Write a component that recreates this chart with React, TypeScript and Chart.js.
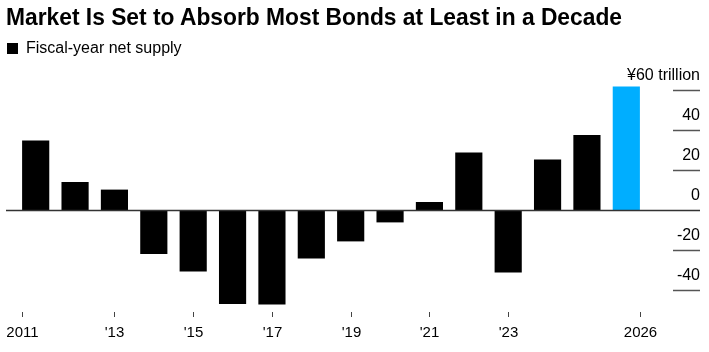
import React, { useEffect, useLayoutEffect, useRef } from "react";
import { Chart, registerables } from "chart.js";

Chart.register(...registerables);

const years = ["2011","2012","2013","2014","2015","2016","2017","2018","2019","2020","2021","2022","2023","2024","2025","2026"];
const supply = [34.7, 14, 10.2, -22, -30.8, -47, -47.2, -24.2, -15.7, -6.2, 4, 28.8, -31.3, 25.3, 37.5, 61.7];
const highlightYear = "2026";
const yTickValues = [60, 40, 20, 0, -20, -40];
const yTickText = ["¥60 trillion", "40", "20", "0", "-20", "-40"];
const xTickYears = ["2011","2013","2015","2017","2019","2021","2023","2026"];
const xTickText = ["2011","'13","'15","'17","'19","'21","'23","2026"];

const TITLE = "Market Is Set to Absorb Most Bonds at Least in a Decade";
const LEGEND = "Fiscal-year net supply";
const FONT = "'Liberation Sans', Arial, Helvetica, sans-serif";

const axisPlugin = {
  id: "bbgAxes",
  afterDatasetsDraw(chart: any) {
    const ctx = chart.ctx;
    const x = chart.scales.x;
    const y = chart.scales.y;
    const area = chart.chartArea;
    const meta = chart.getDatasetMeta(0);
    ctx.save();
    // zero line
    const y0 = Math.round(y.getPixelForValue(0)) + 0.5;
    ctx.strokeStyle = "#333";
    ctx.lineWidth = 1.5;
    ctx.beginPath();
    ctx.moveTo(6, y0);
    ctx.lineTo(700, y0);
    ctx.stroke();
    // y ticks
    ctx.font = `16px ${FONT}`;
    ctx.textAlign = "right";
    ctx.textBaseline = "alphabetic";
    ctx.fillStyle = "#000";
    yTickValues.forEach((v, i) => {
      const py = Math.round(y.getPixelForValue(v)) + 0.5;
      if (v !== 0) {
        ctx.strokeStyle = "#555";
        ctx.lineWidth = 1.5;
        ctx.beginPath();
        ctx.moveTo(673, py);
        ctx.lineTo(700, py);
        ctx.stroke();
      }
      ctx.fillText(yTickText[i], 700, py - 11);
    });
    // x ticks
    ctx.font = `15px ${FONT}`;
    ctx.textAlign = "center";
    const first = years[0];
    const last = years[years.length - 1];
    xTickYears.forEach((yr, i) => {
      const idx = years.indexOf(yr);
      const bar = meta.data[idx];
      let px = x.getPixelForValue(idx);
      if (yr === first) px -= bar.width / 2;
      if (yr === last) px += bar.width / 2;
      px = Math.round(px) + 0.5;
      ctx.strokeStyle = "#444";
      ctx.lineWidth = 1;
      ctx.beginPath();
      ctx.moveTo(px, area.bottom + 2);
      ctx.lineTo(px, area.bottom + 7);
      ctx.stroke();
      ctx.fillText(xTickText[i], px, area.bottom + 27);
    });
    ctx.restore();
  },
};

export default function App() {
  const canvasRef = useRef<HTMLCanvasElement | null>(null);
  const titleRef = useRef<HTMLSpanElement | null>(null);

  useLayoutEffect(() => {
    const el = titleRef.current;
    if (el) {
      el.style.transform = "none";
      const w = el.getBoundingClientRect().width;
      if (w > 0) el.style.transform = `scaleX(${616 / w})`;
    }
  }, []);

  useEffect(() => {
    if (!canvasRef.current) return;
    const chart = new Chart(canvasRef.current, {
      type: "bar",
      data: {
        labels: years,
        datasets: [
          {
            label: LEGEND,
            data: supply,
            backgroundColor: years.map((yr) => (yr === highlightYear ? "#00aeff" : "#000")),
            borderWidth: 0,
            categoryPercentage: 1,
            barPercentage: 0.69,
          },
        ],
      },
      options: {
        animation: false,
        responsive: false,
        maintainAspectRatio: false,
        layout: { padding: { left: 16, right: 63, top: 86, bottom: 42 } },
        plugins: { legend: { display: false }, title: { display: false }, tooltip: { enabled: false } },
        scales: {
          x: { display: false, offset: true },
          y: { display: false, min: -50, max: 62 },
        },
      },
      plugins: [axisPlugin],
    });
    return () => chart.destroy();
  }, []);

  return (
    <div style={{ position: "fixed", left: 0, top: 0, width: 709, height: 352, background: "#fff", overflow: "hidden" }}>
      <canvas ref={canvasRef} width={709} height={352} style={{ position: "absolute", left: 0, top: 0, width: 709, height: 352 }} />
      <span
        ref={titleRef}
        style={{
          position: "absolute", left: 6, top: 5, fontFamily: FONT, fontWeight: 700, fontSize: 24,
          lineHeight: "24px", whiteSpace: "nowrap", transformOrigin: "0 0", color: "#000",
        }}
      >
        {TITLE}
      </span>
      <div style={{ position: "absolute", left: 7, top: 43, width: 11, height: 11, background: "#000" }} />
      <span
        style={{
          position: "absolute", left: 26, top: 40, fontFamily: FONT, fontSize: 16, lineHeight: "16px",
          whiteSpace: "nowrap", color: "#000",
        }}
      >
        {LEGEND}
      </span>
    </div>
  );
}
